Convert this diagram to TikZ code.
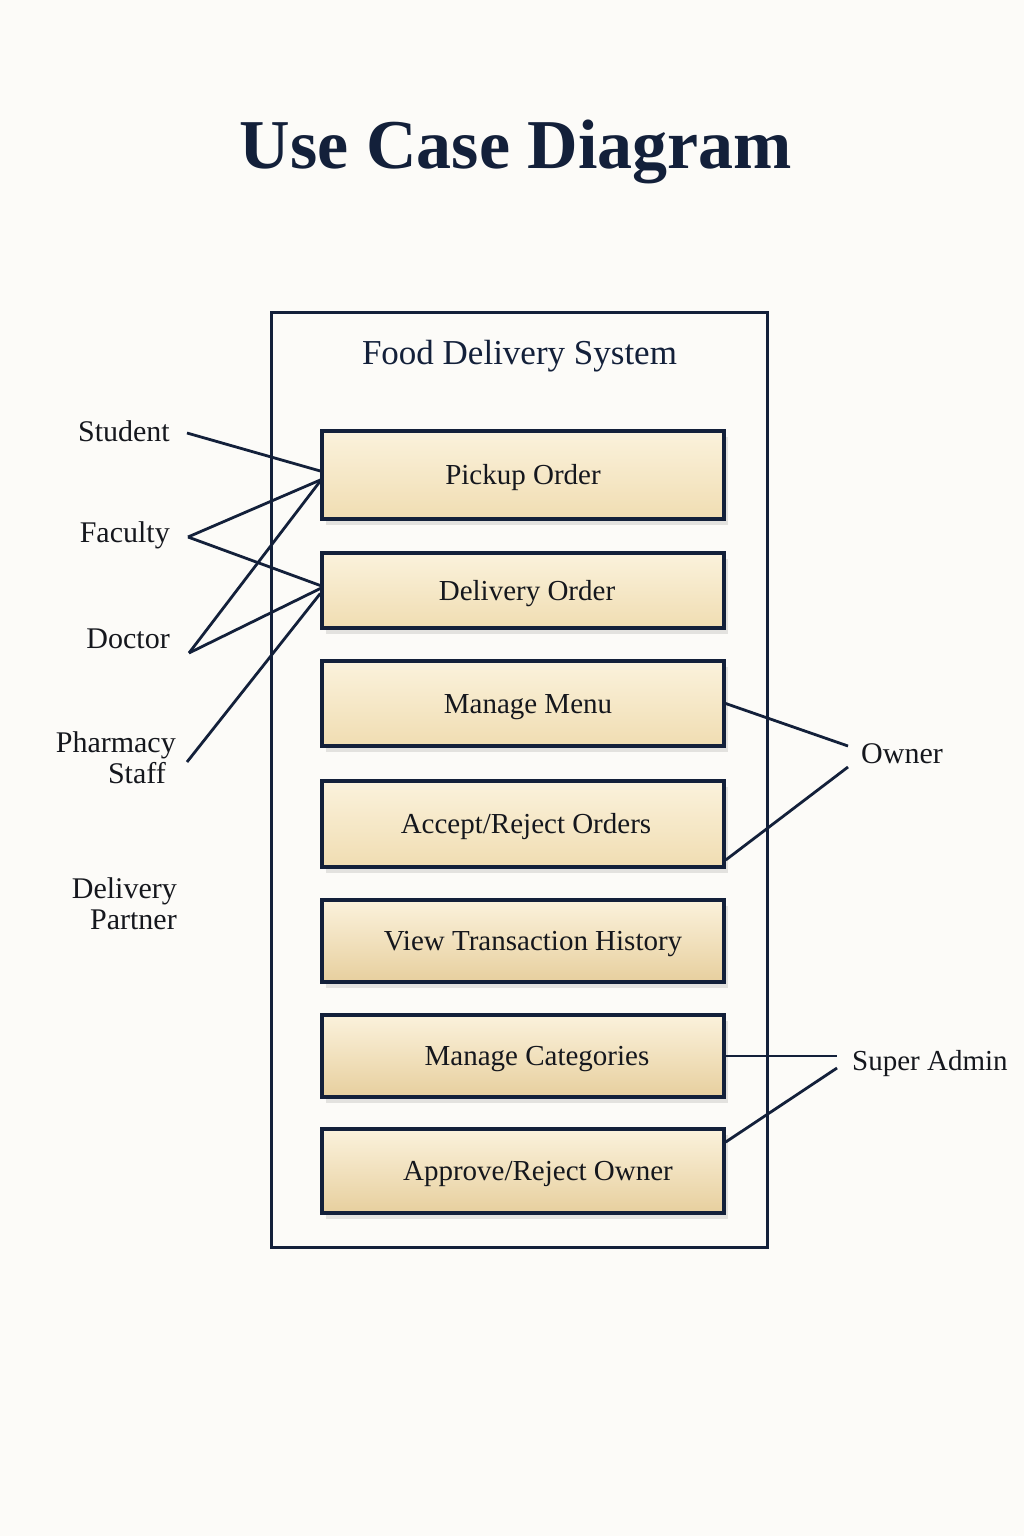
\documentclass[tikz,border=0pt]{standalone}
\usepackage{fontspec}
\setmainfont{Liberation Serif}
\usetikzlibrary{calc,shadows}
\definecolor{navy}{HTML}{13203A}
\definecolor{ink}{HTML}{15171D}
\definecolor{ctop}{HTML}{FBF2DC}
\definecolor{cbot}{HTML}{F0DDB2}
\definecolor{cbotd}{HTML}{E7CF9E}
\definecolor{bg}{HTML}{FCFBF8}
\begin{document}
\begin{tikzpicture}[x=1pt,y=-1pt,
  ucbox/.style={draw=navy, line width=3.4pt, minimum width=402pt, minimum height=#1pt,
    inner sep=0pt, top color=ctop, bottom color=cbot, text=ink,
    font=\fontsize{29}{32}\selectfont, text height=19pt, text depth=0pt,
    drop shadow={shadow xshift=4pt, shadow yshift=-6pt, opacity=0.14, fill=black!70}},
  darker/.style={bottom color=cbotd},
  tshift/.style={execute at begin node={\hspace*{#1pt}}},
  actor/.style={text=ink, font=\fontsize{30}{31}\selectfont, inner sep=0pt},
  conn/.style={draw=navy, line width=2.8pt},
  frame/.style={draw=navy, line width=3.2pt}
]
\fill[bg] (0,0) rectangle (1024,1536);
\useasboundingbox (0,0) rectangle (1024,1536);

% title
\node[anchor=base, text=navy, font=\fontsize{70}{80}\selectfont\bfseries, inner sep=0pt]
  (title) at (516,168) {Use Case Diagram};

% system boundary
\node[frame, minimum width=496pt, minimum height=935pt, inner sep=0pt, anchor=north west]
  (system) at (270,311) {};
\node[anchor=base, text=navy, font=\fontsize{35}{40}\selectfont, inner sep=0pt]
  (systitle) at (519.5,364) {Food Delivery System};

% use cases
\node[ucbox=88] (pickup)   at (523,475)   {Pickup Order};
\node[ucbox=75, tshift=8] (delivery) at (523,590.5) {Delivery Order};
\node[ucbox=85, tshift=10] (menu)     at (523,703.5) {Manage Menu};
\node[ucbox=86, tshift=6] (accept)   at (523,824)   {Accept/Reject Orders};
\node[ucbox=82, darker, tshift=20] (history)  at (523,941)   {View Transaction History};
\node[ucbox=82, darker, tshift=28] (categ)    at (523,1056)  {Manage Categories};
\node[ucbox=84, darker, tshift=30] (approve)  at (523,1171)  {Approve/Reject Owner};

% actors
\node[actor, anchor=base east] (student) at (170,441) {Student};
\node[actor, anchor=base east] (faculty) at (170,542) {Faculty};
\node[actor, anchor=base east] (doctor)  at (170,648) {Doctor};
\node[actor, anchor=east, align=right] (pharmacy) at (176,758) {Pharmacy\\Staff\hspace*{10pt}};
\node[actor, anchor=east, align=right] (dpartner) at (177,904) {Delivery\\Partner};
\node[actor, anchor=base west] (owner) at (861,763) {Owner};
\node[actor, anchor=base west, font=\fontsize{29}{31}\selectfont] (sadmin) at (852,1070) {Super Admin};

% connection points next to actor names
\coordinate (pStu) at (187,433);
\coordinate (pFac) at (188,537);
\coordinate (pDoc) at (189,653);
\coordinate (pPha) at (187,762);
\coordinate (pOw1) at (848,746);
\coordinate (pOw2) at (848,767);
\coordinate (pSa1) at (837,1056);
\coordinate (pSa2) at (837,1068);

% associations
\draw[conn] (pStu) -- ($(pickup.west)+(0,-4)$);
\draw[conn] (pFac) -- ($(pickup.west)+(0,5)$);
\draw[conn] (pFac) -- ($(delivery.west)+(0,-5)$);
\draw[conn] (pDoc) -- ($(pickup.west)+(0,6)$);
\draw[conn] (pDoc) -- ($(delivery.west)+(0,-2)$);
\draw[conn] (pPha) -- ($(delivery.west)+(0,3)$);
\draw[conn] (menu.east) -- (pOw1);
\draw[conn] ($(accept.east)+(0,36)$) -- (pOw2);
\draw[conn] (categ.east) -- (pSa1);
\draw[conn] ($(approve.east)+(0,-29)$) -- (pSa2);
\end{tikzpicture}
\end{document}
